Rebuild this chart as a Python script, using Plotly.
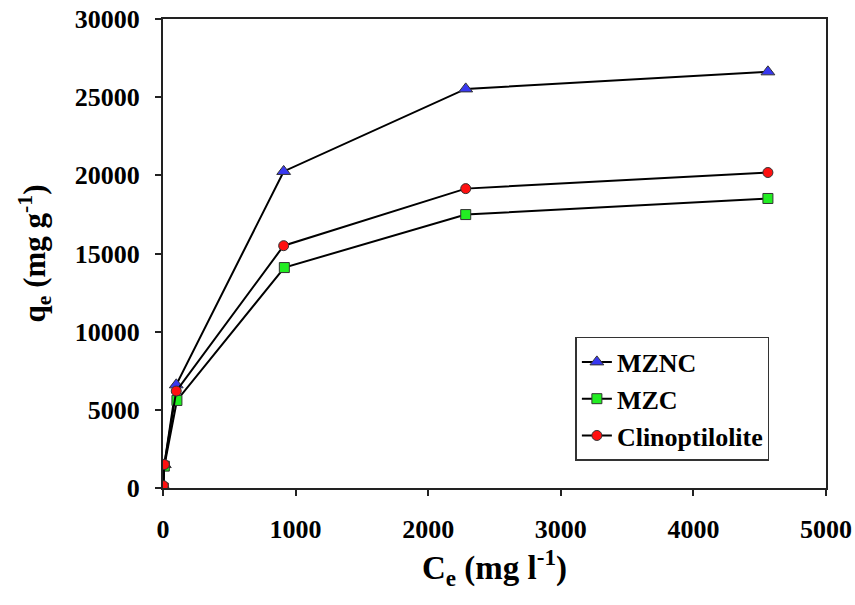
import plotly.graph_objects as go

# Data
ce_mznc = [2, 10, 100, 910, 2283, 4562]
qe_mznc = [100, 1500, 6600, 20250, 25530, 26620]

ce_mzc = [2, 10, 105, 915, 2283, 4562]
qe_mzc = [0, 1400, 5600, 14100, 17490, 18520]

ce_clino = [2, 10, 100, 910, 2283, 4562]
qe_clino = [150, 1500, 6200, 15500, 19150, 20180]

x_ticks = [0, 1000, 2000, 3000, 4000, 5000]
x_labels = ["0", "1000", "2000", "3000", "4000", "5000"]
y_ticks = [0, 5000, 10000, 15000, 20000, 25000, 30000]
y_labels = ["0", "5000", "10000", "15000", "20000", "25000", "30000"]

FONT = "Liberation Serif"

fig = go.Figure()
series = [
    ("MZNC", ce_mznc, qe_mznc, "triangle-up", "#3838f0", 12),
    ("MZC", ce_mzc, qe_mzc, "square", "#22ee22", 10),
    ("Clinoptilolite", ce_clino, qe_clino, "circle", "#ff1010", 10),
]
for name, x, y, sym, col, sz in series:
    fig.add_trace(go.Scatter(
        x=x, y=y, name=name, mode="lines+markers",
        line=dict(color="black", width=2),
        marker=dict(symbol=sym, color=col, size=sz,
                    line=dict(color="#333333", width=1)),
    ))

fig.update_layout(
    width=855, height=605,
    margin=dict(l=163, r=29, t=19, b=117),
    plot_bgcolor="white", paper_bgcolor="white",
    font=dict(family=FONT, color="black", size=26),
    showlegend=True,
    legend=dict(
        x=0.622, y=0.322, xanchor="left", yanchor="top",
        bordercolor="#333333", borderwidth=1.5, bgcolor="white",
        font=dict(family=FONT, size=26, color="black", weight="bold"),
        tracegroupgap=0,
    ),
)
fig.update_xaxes(
    range=[0, 5000], tickvals=x_ticks, ticktext=x_labels,
    showgrid=False, zeroline=False, automargin=False,
    showline=True, linecolor="#222222", linewidth=2, mirror=True,
    ticks="outside", ticklen=6, tickwidth=1.5, tickcolor="#222222",
    tickfont=dict(family=FONT, size=26, weight="bold"),
    ticklabelstandoff=11,
    title=dict(text="C<sub>e</sub> (mg l<sup>-1</sup>)",
               font=dict(family=FONT, size=33, weight="bold"), standoff=10),
)
fig.update_yaxes(
    range=[0, 30000], tickvals=y_ticks, ticktext=y_labels,
    showgrid=False, zeroline=False, automargin=False,
    showline=True, linecolor="#222222", linewidth=2, mirror=True,
    ticks="outside", ticklen=6, tickwidth=1.5, tickcolor="#222222",
    tickfont=dict(family=FONT, size=26, weight="bold"),
    ticklabelstandoff=10,
    title=dict(text="q<sub>e</sub> (mg g<sup>-1</sup>)",
               font=dict(family=FONT, size=31, weight="bold"), standoff=20),
)

fig.write_html("out.html")
